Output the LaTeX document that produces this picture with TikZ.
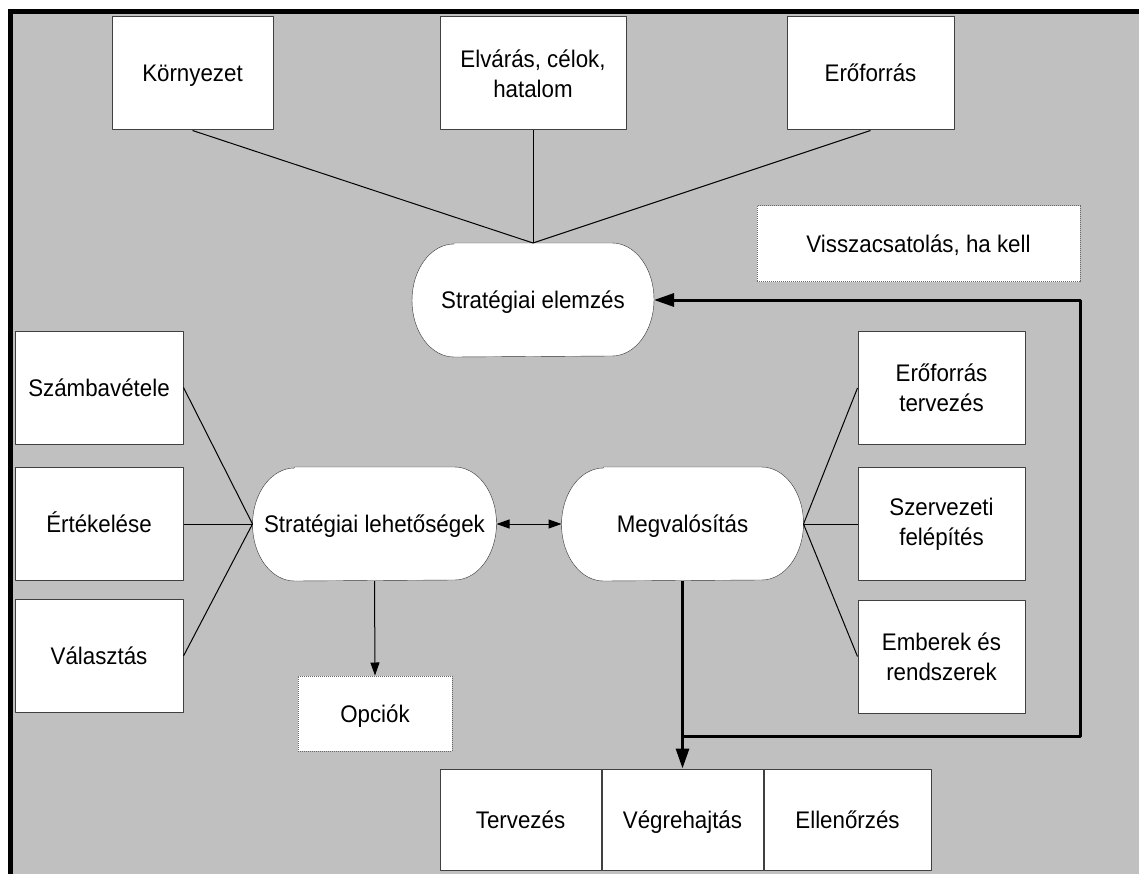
\documentclass[tikz,border=0pt]{standalone}
\usepackage{fontspec}
\setmainfont{Liberation Sans}[FakeStretch=0.93]
\usetikzlibrary{arrows.meta,positioning,backgrounds}
\definecolor{szurke}{HTML}{C0C0C0}

\begin{document}
\begin{tikzpicture}[x=1pt,y=-1pt,line width=1pt,line join=round,
	font=\fontsize{24}{30}\selectfont,
	>={Triangle[length=13pt,width=9pt]},
	doboz/.style={draw=black!75,fill=white,align=center,inner sep=0pt,minimum height=113pt},
	egysor/.style={text height=20pt,text depth=3pt},
	kapszula/.style={inner sep=0pt,minimum width=241pt,minimum height=113pt,egysor},
	pontozott/.style={draw=black!60,densely dotted,fill=white,inner sep=0pt,egysor},
	vastag/.style={line width=3pt,>={Triangle[length=20pt,width=13pt]}}]
	\useasboundingbox (0,0) rectangle (1139,874);
	%% hatter es keret
	\begin{scope}[on background layer]
	\fill[black] (8,9) rectangle (1139,874);
	\fill[szurke] (13,14) rectangle (1139,874);
	\end{scope}
	
	%% felso sor
	\path
	(192.5,73.5) node[doboz,egysor,minimum width=161pt] (kornyezet) {Környezet}
	(533,73.5) node[doboz,minimum width=186pt] (elvaras) {Elvárás, célok,\\hatalom}
	(870.5,73.5) node[doboz,egysor,minimum width=167pt] (eroforras) {Erőforrás}
	(533,300) node[kapszula] (elemzes) {Stratégiai elemzés}
	(918.5,244) node[pontozott,minimum width=323pt,minimum height=76pt] (visszacs) {Visszacsatolás, ha kell}
	;
	%% kozepso sor
	\path
	(99,387.5) node[doboz,egysor,minimum width=168pt] (szamba) {Számbavétele}
	(99,524) node[doboz,egysor,minimum width=168pt] (ertekeles) {Értékelése}
	(99,656) node[doboz,egysor,minimum width=168pt] (valasztas) {Választás}
	(374.5,524) node[kapszula,minimum width=243pt] (lehetoseg) {Stratégiai lehetőségek}
	(682.5,524) node[kapszula] (megval) {Megvalósítás}
	(941.5,388) node[doboz,minimum width=167pt] (erotervezes) {Erőforrás\\tervezés}
	(941.5,524) node[doboz,minimum width=167pt] (szervezeti) {Szervezeti\\felépítés}
	(941.5,656.5) node[doboz,minimum width=167pt] (emberek) {Emberek és\\rendszerek}
	(375,713.5) node[pontozott,minimum width=154pt,minimum height=75pt] (opciok) {Opciók}
	;
	%% also sor
	\node[doboz,egysor,minimum width=161pt,minimum height=101pt] (vegre) at (682.5,819.5) {Végrehajtás};
	\node[doboz,egysor,minimum width=161pt,minimum height=101pt,left=0pt of vegre] (tervezes) {Tervezés};
	\node[doboz,egysor,minimum width=167pt,minimum height=101pt,right=0pt of vegre] (ellenorzes) {Ellenőrzés};
	
	%% kapszula alakok
	\begin{scope}[on background layer]
	\foreach \n in {elemzes,lehetoseg,megval}
	\draw[draw=black!80,fill=white] ([xshift=42pt]\n.north west)--([xshift=-42pt]\n.north east)
	arc[start angle=90,end angle=-90,x radius=42pt,y radius=56.5pt]
	--([xshift=42pt]\n.south west)
	arc[start angle=270,end angle=90,x radius=42pt,y radius=56.5pt]--cycle;
	\end{scope}
	
	%% vonalak
	\foreach \x in {kornyezet,elvaras,eroforras}
	\draw (\x.south)--(elemzes.north);
	\foreach \x in {szamba,ertekeles,valasztas}
	\draw (\x.east)--(lehetoseg.west);
	\foreach \x in {erotervezes,szervezeti,emberek}
	\draw (megval.east)--(\x.west);
	\draw[->] (lehetoseg.south)--(opciok.north);
	\draw[<->] (lehetoseg.east)--(megval.west);
	
	%% visszacsatolas
	\coordinate (elagazas) at (682.5,736);
	\coordinate (sarok) at (1080,736);
	\draw[vastag,->] (megval.south)--(vegre.north);
	\draw[vastag,->] (elagazas)--(sarok)|-(elemzes.east);
\end{tikzpicture}
\end{document}
